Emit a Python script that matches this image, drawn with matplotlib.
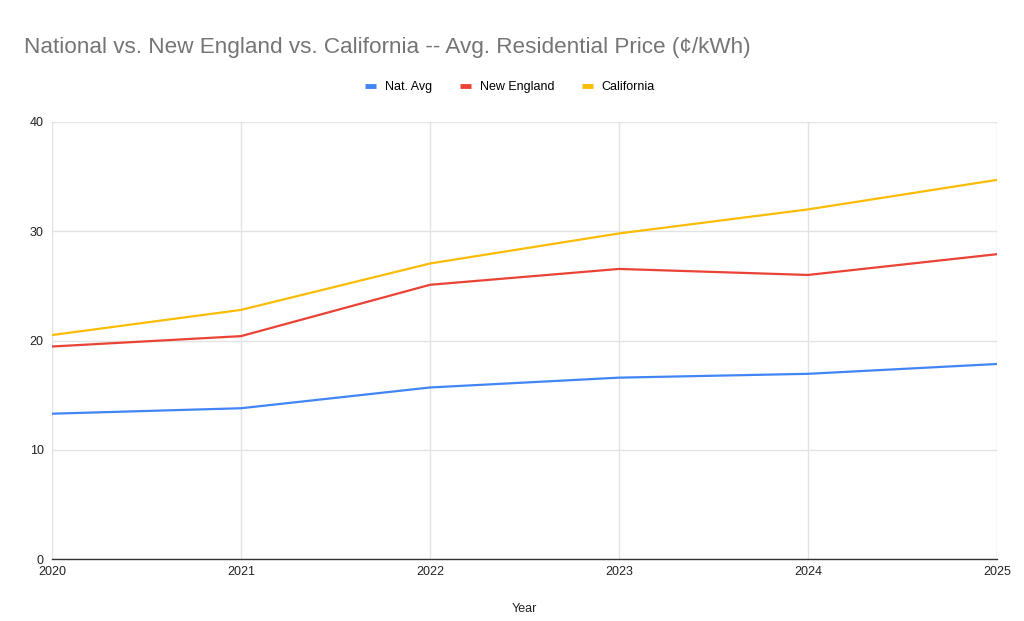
import matplotlib
matplotlib.use("Agg")
import matplotlib.pyplot as plt

years = [2020, 2021, 2022, 2023, 2024, 2025]
nat_avg = [13.3, 13.8, 15.7, 16.6, 16.95, 17.85]
new_england = [19.45, 20.4, 25.1, 26.55, 26.0, 27.9]
california = [20.5, 22.8, 27.05, 29.8, 32.0, 34.7]
y_ticks = [0, 10, 20, 30, 40]

plt.rcParams['font.family'] = ['Liberation Sans', 'DejaVu Sans']

fig = plt.figure(figsize=(10.24, 6.21), dpi=100)
ax = fig.add_axes([52/1024, 1-559/621, (997-52)/1024, (559-122)/621])

ax.plot(years, nat_avg, color='#4285F4', lw=1.6, label='Nat. Avg', solid_capstyle='round')
ax.plot(years, new_england, color='#EA4335', lw=1.6, label='New England', solid_capstyle='round')
ax.plot(years, california, color='#FBBC04', lw=1.6, label='California', solid_capstyle='round')

ax.set_xlim(2020, 2025)
ax.set_ylim(0, 40)
ax.set_yticks(y_ticks)
ax.set_xticks(years)
ax.set_xticklabels([str(y) for y in years])
ax.grid(True, color='#e3e3e3', lw=1)
ax.set_axisbelow(True)
for s in ['top', 'right', 'left']:
    ax.spines[s].set_visible(False)
ax.spines['bottom'].set_color('#333333')
ax.spines['bottom'].set_linewidth(1)
ax.tick_params(axis='both', length=0, labelsize=9, colors='#222222')
ax.tick_params(axis='y', pad=6)
ax.tick_params(axis='x', pad=5)
ax.set_xlabel('Year', fontsize=9, color='#222222', labelpad=18)

fig.text(24/1024, 1-47/621, 'National vs. New England vs. California -- Avg. Residential Price (\u00a2/kWh)',
         fontsize=16.2, color='#757575', va='center', ha='left')

leg = fig.legend(loc='center', bbox_to_anchor=(510/1024, 1-87/621), ncol=3, frameon=False,
                 fontsize=9, handlelength=0.9, handletextpad=0.7, columnspacing=2.2)
for h in leg.get_lines():
    h.set_linewidth(3.5)
    h.set_solid_capstyle('butt')

fig.savefig('out.png', dpi=100)
